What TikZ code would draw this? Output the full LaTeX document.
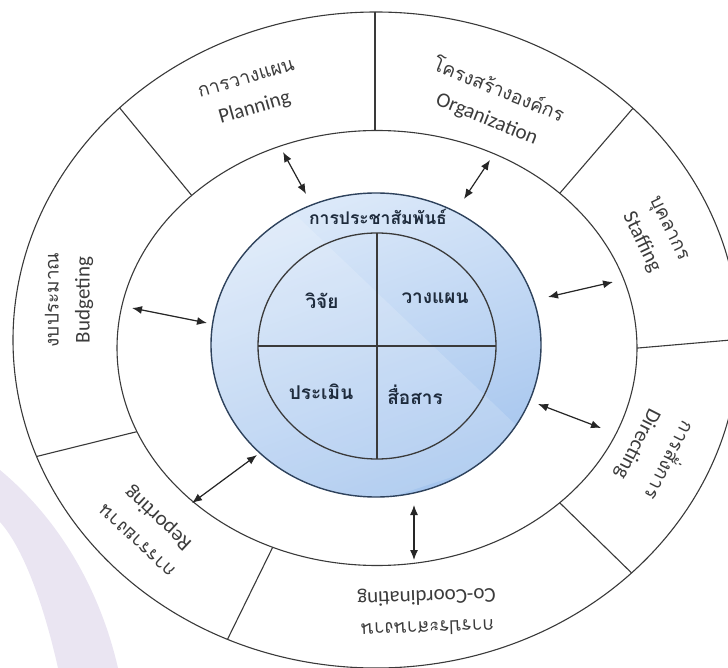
\documentclass[tikz,border=0pt]{standalone}
\usepackage{fontspec}
\setmainfont{Carlito}
\newfontfamily\thai[Script=Thai]{Loma}
\usetikzlibrary{arrows.meta}
\definecolor{linegray}{HTML}{3A3A3A}
\definecolor{textgray}{HTML}{3C3C3C}
\definecolor{rimblue}{HTML}{2E425C}
\definecolor{quadtext}{HTML}{1E2B3C}
\definecolor{lighttop}{HTML}{DCE9F9}
\definecolor{darkbottom}{HTML}{A5C5EE}
\definecolor{lavender}{HTML}{EAE5F2}
\newcommand{\thline}[1]{{\thai\fontsize{19}{31}\selectfont #1}}
\begin{document}
\begin{tikzpicture}[x=1pt,y=-1pt,
  ring/.style={draw=linegray, line width=1.1pt},
  biarrow/.style={{Latex[length=10pt,width=8pt]}-{Latex[length=10pt,width=8pt]}, line width=1.2pt, draw=black!85, fill=black!85},
  seglabel/.style={align=center, text=textgray, font=\fontsize{21}{31}\selectfont, inner sep=0pt},
  quad/.style={text=quadtext, font=\thai\bfseries\fontsize{19}{22}\selectfont, inner sep=0pt}
]
\useasboundingbox (0,0) rectangle (728,668);
\clip (0,0) rectangle (728,668);

% soft lavender swoosh behind the wheel
\fill[lavender] (0,470) .. controls (60,520) and (100,590) .. (118,668)
  -- (58,668) .. controls (45,610) and (25,550) .. (0,522) -- cycle;

% outer ring with its seven segments
\filldraw[ring, fill=white] (376,340) ellipse [x radius=363pt, y radius=328pt];
\begin{scope}
  \clip (376,340) ellipse [x radius=363pt, y radius=328pt];
  \draw[ring] (375,200) -- (375,-20);
  \draw[ring] (230,242) -- (100,84);
  \draw[ring] (180,421) -- (-10,468);
  \draw[ring] (290,512) -- (210,675);
  \draw[ring] (520,464) -- (690,630);
  \draw[ring] (580,353) -- (760,337.5);
  \draw[ring] (520,239.5) -- (660,76.8);
\end{scope}

% middle ring
\filldraw[ring, fill=white] (377,348) ellipse [x radius=260pt, y radius=217.5pt];

% central blue disc
\shade[top color=lighttop, bottom color=darkbottom, shading angle=20]
  (376,345) ellipse [x radius=165pt, y radius=152pt];
\begin{scope}
  \clip (376,345) ellipse [x radius=165pt, y radius=152pt];
  \fill[white, opacity=0.16] (280,200) -- (540,448) -- (200,560) -- (150,200) -- cycle;
\end{scope}
\draw[rimblue, line width=1.4pt] (376,345) ellipse [x radius=165pt, y radius=152pt];

% inner circle split into four
\draw[linegray, line width=1.3pt] (377,346) ellipse [x radius=119pt, y radius=113pt];
\draw[linegray, line width=1.3pt] (377,233) -- (377,459);
\draw[linegray, line width=1.3pt] (258,346) -- (496,346);

% centre labels
\node[quad, font=\thai\bfseries\fontsize{17.5}{20}\selectfont] (pr) at (378,217) {การประชาสัมพันธ์};
\node[quad] (research) at (322,301) {วิจัย};
\node[quad] (plan) at (435,298) {วางแผน};
\node[quad] (evaluate) at (321,392) {ประเมิน};
\node[quad] (communicate) at (415,395) {สื่อสาร};

% segment labels
\node[seglabel, rotate=16] (planning) at (251,95) {\thline{การวางแผน}\\Planning};
\node[seglabel, rotate=-22] (organization) at (493,104) {\thline{โครงสร้างองค์กร}\\Organization};
\node[seglabel, rotate=-64] (staffing) at (654,236) {\thline{บุคลากร}\\Staffing};
\node[seglabel, rotate=-117, font=\fontsize{21}{35}\selectfont] (directing) at (655,453)
  {{\thai\fontsize{19}{35}\selectfont การสั่งการ}\\Directing};
\node[seglabel, rotate=182] (coordinating) at (427,611) {\thline{การประสานงาน}\\Co-Coordinating};
\node[seglabel, rotate=137] (reporting) at (149,528) {\thline{การรายงาน}\\Reporting};
\node[seglabel, rotate=90] (budgeting) at (69,300) {\thline{งบประมาณ}\\Budgeting};

% arrow end points between the blue disc and the middle ring
\coordinate (a1) at (283,152); \coordinate (b1) at (306,194);
\coordinate (a2) at (490,160); \coordinate (b2) at (464,199);
\coordinate (a3) at (613,282); \coordinate (b3) at (548,297);
\coordinate (a4) at (601,428); \coordinate (b4) at (538,404);
\coordinate (a5) at (414,505); \coordinate (b5) at (414,560);
\coordinate (a6) at (257,455); \coordinate (b6) at (192,503);
\coordinate (a7) at (132,308); \coordinate (b7) at (207,323);
\foreach \i in {1,...,7} \draw[biarrow] (a\i) -- (b\i);
\end{tikzpicture}
\end{document}
